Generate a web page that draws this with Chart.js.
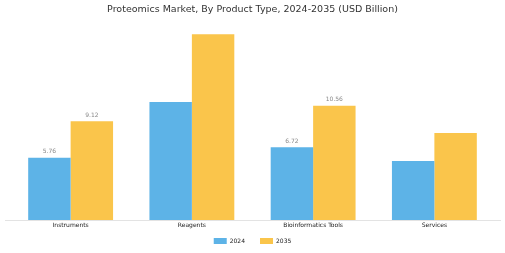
<!DOCTYPE html>
<html><head><meta charset="utf-8">
<script src="https://cdn.jsdelivr.net/npm/chart.js@4/dist/chart.umd.min.js"></script>
<style>html,body{margin:0;padding:0;background:#fff}#w{width:505px;height:253px}</style>
</head><body><div id="w"><canvas id="c"></canvas></div>
<script>
const categories = ["Instruments", "Reagents", "Bioinformatics Tools", "Services"];
const years = ["2024", "2035"];
const values2024 = [5.76, 10.9, 6.72, 5.45];
const values2035 = [9.12, 17.17, 10.56, 8.03];
const labeledCategories = ["Instruments", "Bioinformatics Tools"];
const colors = ["#5DB3E7", "#FAC54B"];

const axisLine = {
  id: 'axisLine',
  afterDatasetsDraw(chart) {
    const {ctx, chartArea} = chart;
    const y = chart.scales.y.getPixelForValue(0);
    ctx.save();
    ctx.strokeStyle = '#e3e3e3';
    ctx.lineWidth = 1;
    ctx.beginPath();
    ctx.moveTo(chartArea.left - 5, y + 0.5);
    ctx.lineTo(chartArea.right + 6, y + 0.5);
    ctx.stroke();
    ctx.restore();
  }
};
const valueLabels = {
  id: 'valueLabels',
  afterDatasetsDraw(chart) {
    const {ctx} = chart;
    ctx.save();
    ctx.fillStyle = '#888';
    ctx.font = '6px "DejaVu Sans"';
    ctx.textAlign = 'center';
    ctx.textBaseline = 'bottom';
    chart.data.datasets.forEach((ds, di) => {
      const meta = chart.getDatasetMeta(di);
      meta.data.forEach((bar, i) => {
        if (!labeledCategories.includes(categories[i])) return;
        ctx.fillText(ds.data[i].toFixed(2), bar.x, bar.y - 3);
      });
    });
    ctx.restore();
  }
};
const legendShift = {
  id: 'legendShift',
  afterLayout(chart) {
    const lg = chart.legend;
    if (lg) { lg.top -= 11; lg.bottom -= 11; }
  }
};

new Chart(document.getElementById('c'), {
  type: 'bar',
  data: {
    labels: categories,
    datasets: [
      {label: years[0], data: values2024, backgroundColor: colors[0]},
      {label: years[1], data: values2035, backgroundColor: colors[1]}
    ]
  },
  options: {
    responsive: true, maintainAspectRatio: false, animation: false,
    layout: {padding: {left: 10, right: 10, top: 0, bottom: -12}},
    datasets: {bar: {categoryPercentage: 0.7, barPercentage: 1.0}},
    scales: {
      x: {
        grid: {display: false, drawTicks: true, tickLength: 2, color: '#ccc'},
        border: {display: false},
        ticks: {color: '#222', font: {size: 6, family: 'DejaVu Sans'}, padding: 0},
        afterFit(scale) { scale.height = 14; }
      },
      y: {display: false, min: 0, max: 18.5}
    },
    plugins: {
      title: {display: true, text: 'Proteomics Market, By Product Type, 2024-2035 (USD Billion)',
        color: '#333', font: {size: 9.5, family: 'DejaVu Sans', weight: 'normal'}, padding: {top: 4, bottom: 4.4}},
      legend: {position: 'bottom', labels: {boxWidth: 13, boxHeight: 6, color: '#222',
        font: {size: 6, family: 'DejaVu Sans'}, padding: 15}},
      tooltip: {enabled: false}
    }
  },
  plugins: [axisLine, valueLabels, legendShift]
});
</script></body></html>
